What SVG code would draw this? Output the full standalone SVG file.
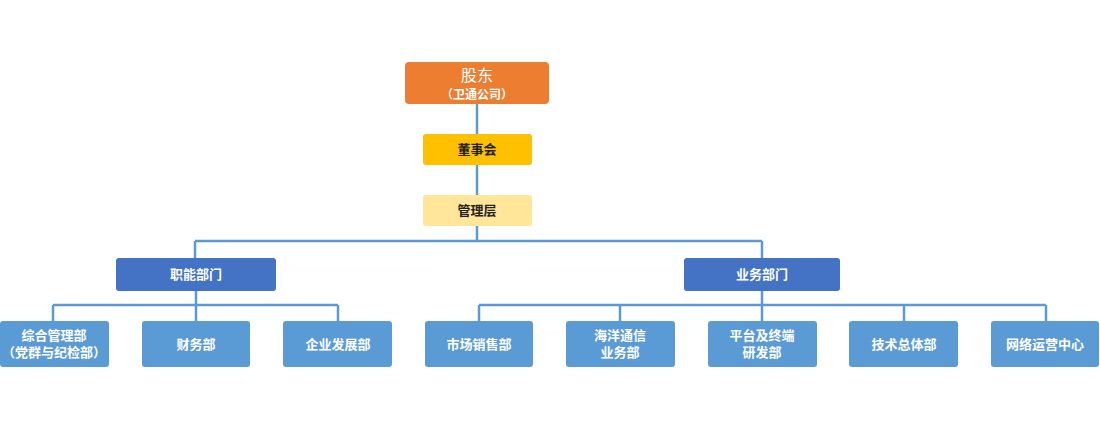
<svg xmlns="http://www.w3.org/2000/svg" width="1100" height="430" viewBox="0 0 1100 430">
<style>
text{font-family:"Noto Sans CJK SC","Noto Sans",sans-serif;text-anchor:middle;font-weight:bold}
.w{fill:#fff;font-size:13px}
.d{fill:#222;font-size:13px}
.c{fill:#5B9BD5;rx:3}
.l{fill:none;stroke:#5B9BD5;stroke-width:2.5}
</style>
<rect width="1100" height="430" fill="#fff"/>
<g id="connectors">
<path class="l" d="M477 104V134M477 165V195M477 226V241M195 241H762M195 241V258M762 241V258"/>
<path class="l" d="M196 291V305M53 305H338M53 305V321M196 305V321M338 305V321"/>
<path class="l" d="M762 291V305M479 305H1046M479 305V321M620 305V321M762 305V321M904 305V321M1046 305V321"/>
</g>
<g id="n0"><rect x="405" y="62" width="144" height="42" rx="4" fill="#ED7D31"/><text class="w" x="477" y="81" style="font-size:16px;font-weight:normal">股东</text><text class="w" x="477" y="99" style="font-size:12px">（卫通公司）</text></g>
<g id="n1"><rect x="423" y="134" width="109" height="31" rx="3" fill="#FFC000"/><text class="d" x="477" y="154">董事会</text></g>
<g id="n2"><rect x="423" y="195" width="109" height="31" rx="3" fill="#FFE699"/><text class="d" x="477" y="215">管理层</text></g>
<g id="n3"><rect x="116" y="258" width="160" height="33" rx="3" fill="#4472C4"/><text class="w" x="196" y="279">职能部门</text></g>
<g id="n4"><rect x="684" y="258" width="156" height="33" rx="3" fill="#4472C4"/><text class="w" x="762" y="279">业务部门</text></g>
<g id="n5"><rect class="c" x="0" y="321" width="109" height="46"/><text class="w" x="54" y="340">综合管理部</text><text class="w" x="54" y="357">（党群与纪检部）</text></g>
<g id="n6"><rect class="c" x="142" y="321" width="108" height="46"/><text class="w" x="196" y="349">财务部</text></g>
<g id="n7"><rect class="c" x="283" y="321" width="109" height="46"/><text class="w" x="338" y="349">企业发展部</text></g>
<g id="n8"><rect class="c" x="425" y="321" width="108" height="46"/><text class="w" x="479" y="349">市场销售部</text></g>
<g id="n9"><rect class="c" x="566" y="321" width="109" height="46"/><text class="w" x="620" y="340">海洋通信</text><text class="w" x="620" y="357">业务部</text></g>
<g id="n10"><rect class="c" x="708" y="321" width="109" height="46"/><text class="w" x="762" y="340">平台及终端</text><text class="w" x="762" y="357">研发部</text></g>
<g id="n11"><rect class="c" x="849" y="321" width="109" height="46"/><text class="w" x="904" y="349">技术总体部</text></g>
<g id="n12"><rect class="c" x="991" y="321" width="108" height="46"/><text class="w" x="1045" y="349">网络运营中心</text></g>
</svg>
